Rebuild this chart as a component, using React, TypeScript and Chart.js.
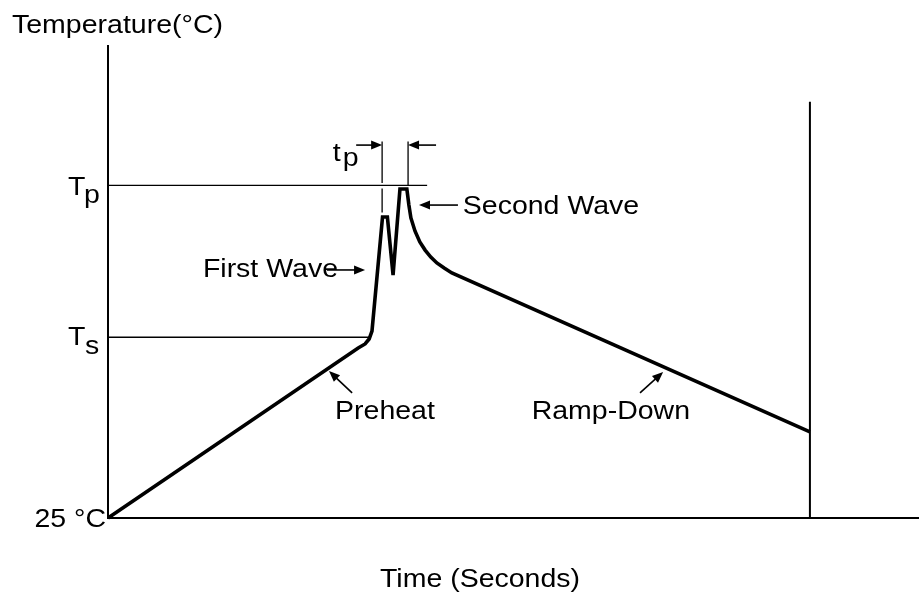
import React, { useEffect, useRef } from "react";
import { Chart, registerables } from "chart.js";

Chart.register(...registerables);

// Profile curve (time in s, temperature in °C)
const timeSec = [0, 61.7, 63.4, 64.4, 65.1, 67.7, 68.9, 70.3, 72.0, 73.7, 74.2, 74.7, 75.7, 76.9, 78.2, 79.6, 81.1, 82.9, 84.8, 173.1];
const tempC = [25, 114.9, 117.0, 119.6, 123.8, 184.1, 184.1, 153.4, 198.9, 198.9, 190.4, 183.6, 176.7, 170.9, 166.6, 162.9, 159.8, 157.1, 154.5, 70.5];

// Reference levels
const T_START = 25;
const T_S = 120;
const T_P = 200;
const tsLineEndTime = 64.4;
const tpLineEndTime = 78.7;
const endTime = 173.1;
const endLineTop = 245;

// tp marker
const tpMarkLeftTime = 67.6;
const tpMarkRightTime = 74.0;
const tpMarkTopTemp = 224;
const tpMarkLeftBottomTemp = 186.5;
const tpArrowTemp = 222.1;

// Axis ranges
const xMin = 0;
const xMax = 200;
const yMin = 25;
const yMax = 275;

// Annotation labels [text, time, temp, align]
const annoLabels: [string, number, number, CanvasTextAlign][] = [
  ["First Wave", 23.4, 152.4, "left"],
  ["Second Wave", 87.5, 185.7, "left"],
  ["Preheat", 68.3, 77.3, "center"],
  ["Ramp-Down", 124.0, 77.3, "center"],
];

// Arrows [tailTime, tailTemp, headTime, headTemp]
const arrows: [number, number, number, number][] = [
  [61.2, 222.1, 67.6, 222.1],
  [80.9, 222.1, 74.0, 222.1],
  [86.3, 190.4, 76.7, 190.4],
  [54.0, 156.1, 63.4, 156.1],
  [60.2, 91.1, 54.5, 102.7],
  [131.2, 91.1, 136.9, 102.2],
];

const FONT = '"Liberation Sans", Arial, Helvetica, sans-serif';
const FONT_SIZE = 25;
const SCALE_X = 1.14;

function drawText(
  ctx: CanvasRenderingContext2D,
  text: string,
  x: number,
  y: number,
  align: CanvasTextAlign = "left",
  size = FONT_SIZE,
  sx = SCALE_X
) {
  ctx.save();
  ctx.font = `${size}px ${FONT}`;
  ctx.fillStyle = "#000";
  ctx.textBaseline = "alphabetic";
  ctx.textAlign = "left";
  const w = ctx.measureText(text).width * sx;
  const left = align === "center" ? x - w / 2 : align === "right" ? x - w : x;
  ctx.translate(left, y);
  ctx.scale(sx, 1);
  ctx.fillText(text, 0, 0);
  ctx.restore();
}

function drawArrow(ctx: CanvasRenderingContext2D, x1: number, y1: number, x2: number, y2: number) {
  const ang = Math.atan2(y2 - y1, x2 - x1);
  const len = 11;
  const hw = 4.5;
  ctx.save();
  ctx.strokeStyle = "#000";
  ctx.fillStyle = "#000";
  ctx.lineWidth = 1.6;
  ctx.beginPath();
  ctx.moveTo(x1, y1);
  ctx.lineTo(x2 - Math.cos(ang) * len * 0.8, y2 - Math.sin(ang) * len * 0.8);
  ctx.stroke();
  ctx.beginPath();
  ctx.moveTo(x2, y2);
  ctx.lineTo(x2 - Math.cos(ang) * len - Math.sin(ang) * hw, y2 - Math.sin(ang) * len + Math.cos(ang) * hw);
  ctx.lineTo(x2 - Math.cos(ang) * len + Math.sin(ang) * hw, y2 - Math.sin(ang) * len - Math.cos(ang) * hw);
  ctx.closePath();
  ctx.fill();
  ctx.restore();
}

function line(ctx: CanvasRenderingContext2D, x1: number, y1: number, x2: number, y2: number, w: number) {
  ctx.save();
  ctx.strokeStyle = "#000";
  ctx.lineWidth = w;
  ctx.lineCap = "butt";
  ctx.beginPath();
  ctx.moveTo(x1, y1);
  ctx.lineTo(x2, y2);
  ctx.stroke();
  ctx.restore();
}

const profilePlugin = {
  id: "profileDecor",
  beforeDatasetsDraw(chart: any) {
    const ctx: CanvasRenderingContext2D = chart.ctx;
    const xs = chart.scales.x;
    const ys = chart.scales.y;
    const area = chart.chartArea;
    const px = (v: number) => xs.getPixelForValue(v);
    const py = (v: number) => ys.getPixelForValue(v);
    // axes
    line(ctx, area.left, area.top, area.left, area.bottom + 1, 2);
    line(ctx, area.left, area.bottom, area.right, area.bottom, 2);
    // end vertical line
    line(ctx, px(endTime), py(endLineTop), px(endTime), area.bottom, 2);
    // Tp / Ts level lines
    line(ctx, area.left, py(T_P) - 1.5, px(tpLineEndTime), py(T_P) - 1.5, 1.3);
    line(ctx, area.left, py(T_S) - 1, px(tsLineEndTime), py(T_S) - 1, 1.3);
    // tp marker lines
    const yTop = py(tpMarkTopTemp);
    const yLvl = py(T_P) - 1.5;
    line(ctx, px(tpMarkLeftTime), yTop, px(tpMarkLeftTime), yLvl - 2.5, 1.3);
    line(ctx, px(tpMarkLeftTime), yLvl + 3, px(tpMarkLeftTime), py(tpMarkLeftBottomTemp), 1.3);
    line(ctx, px(tpMarkRightTime), yTop, px(tpMarkRightTime), yLvl, 1.3);
  },
  afterDatasetsDraw(chart: any) {
    const ctx: CanvasRenderingContext2D = chart.ctx;
    const xs = chart.scales.x;
    const ys = chart.scales.y;
    const area = chart.chartArea;
    const px = (v: number) => xs.getPixelForValue(v);
    const py = (v: number) => ys.getPixelForValue(v);

    // arrows
    for (const a of arrows) {
      drawArrow(ctx, px(a[0]), py(a[1]), px(a[2]), py(a[3]));
    }
    // annotation labels
    for (const l of annoLabels) {
      drawText(ctx, l[0], px(l[1]), py(l[2]), l[3]);
    }
    // tp label
    const tpy = py(tpArrowTemp);
    drawText(ctx, "t", px(55.4), tpy + 16, "left");
    drawText(ctx, "p", px(57.9), tpy + 21, "left");

    // y level labels
    const lx = area.left - 40;
    drawText(ctx, "T", lx, py(T_P) + 8, "left");
    drawText(ctx, "p", lx + 16, py(T_P) + 16, "left");
    drawText(ctx, "T", lx, py(T_S) + 7, "left");
    drawText(ctx, "s", lx + 17, py(T_S) + 16, "left");
    drawText(ctx, "25 °C", area.left - 2, py(T_START) + 9, "right");

    // axis titles
    drawText(ctx, "Temperature(°C)", 12, 33, "left");
    drawText(ctx, "Time (Seconds)", 480, 587, "center");
  },
};

export default function App() {
  const canvasRef = useRef<HTMLCanvasElement | null>(null);

  useEffect(() => {
    if (!canvasRef.current) return;
    const data = timeSec.map((t, i) => ({ x: t, y: tempC[i] }));
    const chart = new Chart(canvasRef.current, {
      type: "line",
      data: {
        datasets: [
          {
            data,
            borderColor: "#000",
            borderWidth: 3.6,
            tension: 0,
            fill: false,
            pointRadius: 0,
            borderJoinStyle: "miter",
            borderCapStyle: "butt",
            clip: false as any,
          } as any,
        ],
      },
      options: {
        animation: false,
        responsive: true,
        maintainAspectRatio: false,
        layout: { padding: { left: 108, top: 45, right: 0, bottom: 76 } },
        plugins: {
          legend: { display: false },
          tooltip: { enabled: false },
          title: { display: false },
        },
        scales: {
          x: { type: "linear", min: xMin, max: xMax, display: false },
          y: { type: "linear", min: yMin, max: yMax, display: false },
        },
      },
      plugins: [profilePlugin],
    });
    return () => chart.destroy();
  }, []);

  return (
    <div
      style={{
        position: "fixed",
        left: 0,
        top: 0,
        width: 919,
        height: 594,
        background: "#fff",
      }}
    >
      <canvas ref={canvasRef} />
    </div>
  );
}
